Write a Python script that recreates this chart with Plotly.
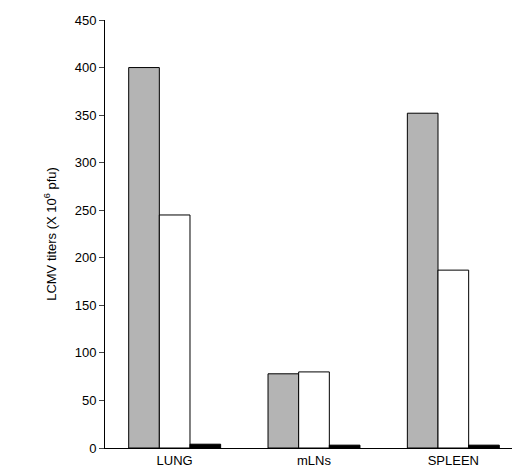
import plotly.graph_objects as go

# organs and titer values (x 10^6 pfu)
organs = ["LUNG", "mLNs", "SPLEEN"]
gray_vals = [400, 78, 352]
white_vals = [245, 80, 187]
black_vals = [4, 3, 3]

fig = go.Figure()
for vals, col in [(gray_vals, "#b4b4b4"), (white_vals, "white"), (black_vals, "black")]:
    fig.add_trace(go.Bar(x=organs, y=vals, marker=dict(color=col, line=dict(color="black", width=1)),
                         showlegend=False))

fig.update_layout(
    width=520, height=474,
    margin=dict(l=97, r=5, t=10, b=34),
    plot_bgcolor="white", paper_bgcolor="white",
    barmode="group", bargap=0.34, bargroupgap=0,
    font=dict(family="Liberation Sans, Arial", size=13, color="black"),
)
fig.update_xaxes(showline=True, linecolor="black", ticks="", tickfont=dict(size=13))
fig.update_yaxes(range=[0, 450], dtick=50, showline=True, linecolor="black", ticks="outside",
                 ticklen=5, showgrid=False, zeroline=False, tickfont=dict(size=13),
                 title=dict(text="LCMV titers (X 10<sup>6</sup> pfu)", font=dict(size=13)))

fig.write_html("out.html")
